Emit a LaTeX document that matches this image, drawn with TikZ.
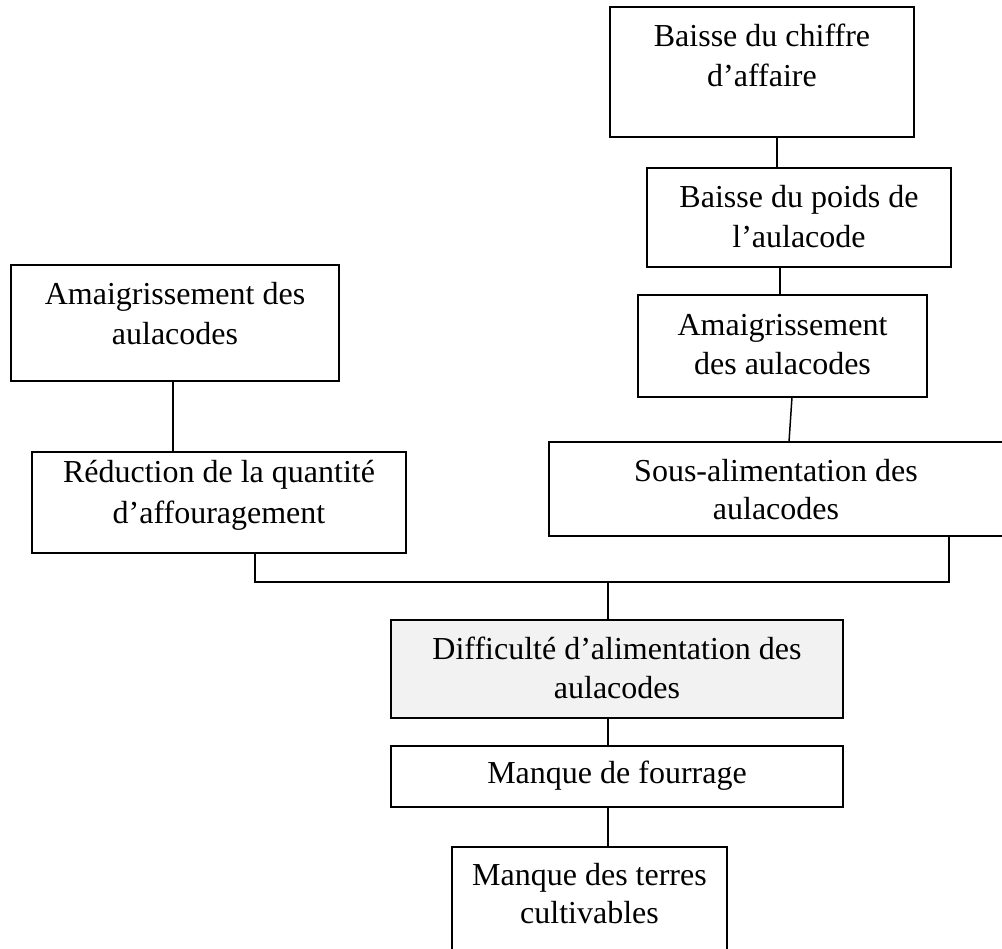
\documentclass[tikz,border=0pt]{standalone}
\usepackage{fontspec}
\setmainfont{Liberation Serif}
\definecolor{lightfill}{HTML}{F2F2F2}
\begin{document}
\begin{tikzpicture}[x=1pt,y=-1pt,
  box/.style={draw, line width=1.5pt, rectangle, inner sep=0pt, outer sep=0pt},
  txt/.style={inner sep=0pt, outer sep=0pt, anchor=base, font=\fontsize{32}{38}\selectfont},
  link/.style={line width=1.5pt}]
\useasboundingbox (0,0) rectangle (1002,949);
% boxes
\node[box, minimum width=304pt, minimum height=130pt] (b1) at (762,72) {};
\node[box, minimum width=304pt, minimum height=99pt] (b2) at (799,217.5) {};
\node[box, minimum width=289pt, minimum height=102pt] (b3) at (782.5,346) {};
\node[box, minimum width=454pt, minimum height=94pt] (b4) at (776,489) {};
\node[box, minimum width=328pt, minimum height=116pt] (b5) at (175,323) {};
\node[box, minimum width=374pt, minimum height=101pt] (b6) at (219,502.5) {};
\node[box, fill=lightfill, minimum width=452pt, minimum height=98pt] (b7) at (617,669) {};
\node[box, minimum width=452pt, minimum height=61pt] (b8) at (617,776.5) {};
\node[box, minimum width=275pt, minimum height=110pt] (b9) at (589.5,902) {};
% texts
\node[txt] (t1a) at (762,47) {Baisse du chiffre};
\node[txt] (t1b) at (762,87) {d’affaire};
\node[txt] (t2a) at (799,208) {Baisse du poids de};
\node[txt] (t2b) at (799,248) {l’aulacode};
\node[txt] (t3a) at (782.5,336) {Amaigrissement};
\node[txt] (t3b) at (782.5,375) {des aulacodes};
\node[txt] (t4a) at (776,482) {Sous-alimentation des};
\node[txt] (t4b) at (776,520) {aulacodes};
\node[txt] (t5a) at (175,305) {Amaigrissement des};
\node[txt] (t5b) at (175,345) {aulacodes};
\node[txt] (t6a) at (219,483) {Réduction de la quantité};
\node[txt] (t6b) at (219,523) {d’affouragement};
\node[txt] (t7a) at (617,659) {Difficulté d’alimentation des};
\node[txt] (t7b) at (617,698) {aulacodes};
\node[txt] (t8) at (617,783) {Manque de fourrage};
\node[txt] (t9a) at (589.5,885) {Manque des terres};
\node[txt] (t9b) at (589.5,923) {cultivables};
% connectors
\coordinate (j) at (608,582);
\draw[link] ([xshift=15pt]b1.south) -- ([xshift=15pt]b1.south |- b2.north);
\draw[link] ([xshift=-19pt]b2.south) -- ([xshift=-19pt]b2.south |- b3.north);
\draw[link] ([xshift=9.5pt]b3.south) -- ([xshift=13pt]b4.north);
\draw[link] ([xshift=-2pt]b5.south) -- ([xshift=-2pt]b5.south |- b6.north);
\draw[link] ([xshift=36pt]b6.south) -- ([xshift=36pt]b6.south |- j)
  -- ([xshift=173pt]b4.south |- j) -- ([xshift=173pt]b4.south);
\draw[link] (j) -- (j |- b7.north);
\draw[link] ([xshift=-9pt]b7.south) -- ([xshift=-9pt]b8.north);
\draw[link] ([xshift=-9pt]b8.south) -- ([xshift=-9pt]b8.south |- b9.north);
\end{tikzpicture}
\end{document}
